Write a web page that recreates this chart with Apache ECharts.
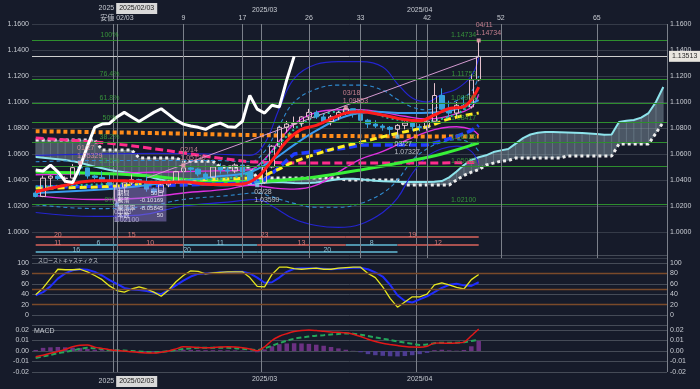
<!DOCTYPE html>
<html><head><meta charset="utf-8">
<script src="https://cdn.jsdelivr.net/npm/echarts@6/dist/echarts.min.js"></script>
<style>html,body{margin:0;padding:0;background:#161b2a;}#c{width:700px;height:389px;}</style>
</head><body><div id="c"></div>
<script>
const categories = [
'2025/01/17','2025/01/20','2025/01/21','2025/01/22','2025/01/23','2025/01/24',
'2025/01/27','2025/01/28','2025/01/29','2025/01/30','2025/01/31',
'2025/02/03','2025/02/04','2025/02/05','2025/02/06','2025/02/07',
'2025/02/10','2025/02/11','2025/02/12','2025/02/13','2025/02/14',
'2025/02/17','2025/02/18','2025/02/19','2025/02/20','2025/02/21',
'2025/02/24','2025/02/25','2025/02/26','2025/02/27','2025/02/28',
'2025/03/03','2025/03/04','2025/03/05','2025/03/06','2025/03/07',
'2025/03/10','2025/03/11','2025/03/12','2025/03/13','2025/03/14',
'2025/03/17','2025/03/18','2025/03/19','2025/03/20','2025/03/21',
'2025/03/24','2025/03/25','2025/03/26','2025/03/27','2025/03/28',
'2025/03/31','2025/04/01','2025/04/02','2025/04/03','2025/04/04',
'2025/04/07','2025/04/08','2025/04/09','2025/04/10','2025/04/11',
'2025/04/14','2025/04/15','2025/04/16','2025/04/17','2025/04/18',
'2025/04/21','2025/04/22','2025/04/23','2025/04/24','2025/04/25',
'2025/04/28','2025/04/29','2025/04/30','2025/05/01','2025/05/02',
'2025/05/05','2025/05/06','2025/05/07','2025/05/08','2025/05/09',
'2025/05/12','2025/05/13','2025/05/14','2025/05/15','2025/05/16'];

const opens = [1.0300,1.0273,1.0414,1.0430,1.0411,1.0415,1.0495,1.0493,1.0431,1.0420,1.0390,
 1.0240,1.0344,1.0378,1.0403,1.0383,1.0330,1.0307,1.0362,1.0385,1.0465,
 1.0493,1.0483,1.0446,1.0421,1.0500,1.0477,1.0469,1.0515,1.0462,1.0390,
 1.0380,1.0500,1.0660,1.0805,1.0830,1.0835,1.0885,1.0920,1.0885,1.0850,
 1.0885,1.0920,1.0948,1.0905,1.0860,1.0830,1.0815,1.0805,1.0790,1.0820,
 1.0838,1.0810,1.0805,1.0852,1.1050,1.0945,1.0915,1.0975,1.0962,1.1170];
const highs = [1.0315,1.0433,1.0436,1.0448,1.0428,1.0522,1.05329,1.0495,1.0440,1.0468,1.0440,
 1.0380,1.0380,1.0442,1.0410,1.0430,1.0340,1.0380,1.0400,1.0470,1.0513,
 1.0505,1.0490,1.0460,1.0505,1.0528,1.0500,1.0528,1.0530,1.0470,1.0415,
 1.0505,1.0668,1.0815,1.0855,1.0888,1.0890,1.0947,1.0935,1.0905,1.0900,
 1.0930,1.09553,1.0950,1.0910,1.0870,1.0860,1.0830,1.0815,1.0830,1.0850,
 1.0850,1.0830,1.0880,1.1145,1.1105,1.1010,1.1000,1.1050,1.1215,1.14734];
const lows = [1.0266,1.0268,1.0340,1.0400,1.0380,1.0410,1.0435,1.0410,1.0380,1.0380,1.0355,
 1.02100,1.0300,1.0360,1.0360,1.0310,1.0285,1.0300,1.0345,1.0370,1.0450,
 1.0460,1.0430,1.0400,1.0415,1.0450,1.0450,1.0455,1.0440,1.0375,1.03599,
 1.0370,1.0490,1.0650,1.0765,1.0800,1.0810,1.0860,1.0870,1.0830,1.0820,
 1.0860,1.0900,1.0880,1.0830,1.0800,1.0800,1.0780,1.0745,1.07327,1.0790,
 1.0780,1.0775,1.0780,1.0850,1.0940,1.0880,1.0890,1.0940,1.0950,1.1160];
const closes = [1.0273,1.0414,1.0430,1.0411,1.0415,1.0495,1.0493,1.0431,1.0420,1.0390,1.0362,
 1.0344,1.0378,1.0403,1.0383,1.0330,1.0307,1.0362,1.0385,1.0465,1.0493,
 1.0483,1.0446,1.0421,1.0500,1.0477,1.0469,1.0515,1.0462,1.0390,1.0380,
 1.0500,1.0660,1.0805,1.0830,1.0835,1.0885,1.0920,1.0885,1.0850,1.0885,
 1.0920,1.0948,1.0905,1.0860,1.0830,1.0815,1.0805,1.0790,1.0820,1.0838,
 1.0810,1.0805,1.0852,1.1050,1.0945,1.0915,1.0975,1.0962,1.1170,1.13513];
const chikouShift = 25;

const senkouA = [1.0577,1.0572,1.0566,1.0560,1.0553,1.0545,1.0532,1.0518,1.0503,1.0490,
 1.0477,1.0468,1.0460,1.0454,1.0445,1.0432,1.0416,1.0402,1.0391,1.0383,
 1.0377,1.0372,1.0368,1.0365,1.0362,1.0360,1.0360,1.0361,1.0363,1.0367,
 1.0373,1.0378,1.0383,1.0384,1.0380,1.0377,1.0375,1.0376,1.0380,1.0389,
 1.0398,1.0405,1.0409,1.0409,1.0405,1.0400,1.0395,1.0391,1.0388,1.0386,
 1.0385,1.0385,1.0385,1.0385,1.0386,1.0392,1.0420,1.0465,1.0515,1.0555,
 1.0575,1.0590,1.0615,1.0628,1.0638,1.0680,1.0722,1.0750,1.0763,1.0769,
 1.0769,1.0767,1.0765,1.0763,1.0761,1.0757,1.0753,1.0749,1.0750,1.0846,
 1.0855,1.0862,1.0880,1.0915,1.1000,1.1115];
const senkouB = [1.0708,1.0708,1.0708,1.0708,1.0708,1.0708,1.0708,1.0708,1.0708,
 1.0630,1.0630,1.0630,1.0630,1.0630,
 1.0570,1.0570,1.0570,1.0570,1.0570,1.0570,
 1.0545,1.0545,1.0545,1.0545,1.0545,
 1.0500,1.0500,1.0500,1.0500,1.0500,
 1.0415,1.0415,1.0415,1.0415,1.0415,1.0415,1.0415,1.0415,1.0415,1.0415,1.0415,1.0415,
 1.0400,1.0400,1.0400,1.0400,1.0400,1.0400,1.0400,1.0400,
 1.0362,1.0362,1.0362,1.0362,1.0362,1.0362,1.0362,
 1.0400,1.0435,1.0460,1.0480,1.0515,1.0530,1.0545,1.0550,
 1.0569,1.0569,1.0569,1.0569,1.0569,1.0569,1.0569,
 1.0585,1.0585,1.0585,1.0585,1.0585,1.0585,1.0585,
 1.0677,1.0677,1.0677,1.0677,1.0677,
 1.0760,1.0846];

const ma200Pts = [[0,1.0775],[15,1.0762],[30,1.0745],[45,1.0737],[60,1.0735]];
const ma100Pts = [[0,1.0723],[5,1.0705],[10,1.0682],[15,1.0648],[20,1.0608],[25,1.0568],[30,1.0538],[40,1.0530],[50,1.0530],[60,1.0535]];
const ma75Pts = [[0,1.0462],[10,1.0448],[15,1.0432],[22,1.0398],[29,1.0388],[35,1.0405],[40,1.0440],[44,1.0477],[50,1.0540],[55,1.0600],[60,1.0685]];
const kijunPts = [[0,1.0346],[10,1.0352],[20,1.0362],[29,1.0377],[31,1.0400],[33,1.0500],[35,1.0600],[42,1.0646],[44,1.0670],[53,1.0670],[55,1.0700],[57,1.0735],[59,1.0780],[60,1.0820]];
const yellowPts = [[0,1.0338],[10,1.0350],[20,1.0395],[28,1.0412],[30,1.0420],[32,1.0460],[35,1.0540],[38,1.0600],[41,1.0650],[44,1.0690],[48,1.0746],[53,1.0810],[56,1.0870],[60,1.0915]];
const redPts = [[0,1.0310],[4,1.0360],[8,1.0395],[12,1.0395],[16,1.0380],[20,1.0385],[24,1.0365],[28,1.0370],[30,1.0420],[32,1.0550],[34,1.0700],[36,1.0790],[38,1.0820],[40,1.0870],[42,1.0915],[44,1.0925],[47,1.0900],[50,1.0865],[52,1.0855],[54,1.0900],[56,1.0950],[58,1.0965],[60,1.1115]];
const lightBluePts = [[0,1.0300],[10,1.0330],[15,1.0360],[20,1.0395],[25,1.0430],[29,1.0460],[32,1.0550],[35,1.0670],[38,1.0780],[42,1.0890],[46,1.0925],[50,1.0915],[54,1.0920],[57,1.0945],[60,1.1015]];
const greenDotPts = [[0,1.0350],[10,1.0370],[20,1.0400],[27,1.0420],[30,1.0500],[33,1.0680],[36,1.0830],[40,1.0920],[44,1.0935],[48,1.0875],[52,1.0850],[55,1.0870],[58,1.0940],[60,1.1050]];
const bbUp3 = [[0,1.059],[8,1.060],[16,1.0605],[24,1.060],[29,1.059],[31,1.068],[33,1.095],[35,1.118],[38,1.129],[41,1.131],[44,1.131],[47,1.127],[49,1.114],[51,1.103],[53,1.100],[55,1.106],[57,1.110],[59,1.120],[60,1.134]];
const bbLo3 = [[0,1.015],[8,1.012],[14,1.013],[20,1.020],[26,1.023],[30,1.025],[32,1.020],[35,1.010],[38,1.005],[41,1.0035],[44,1.006],[47,1.015],[49,1.026],[51,1.045],[53,1.058],[55,1.064],[57,1.066],[59,1.062],[60,1.052]];
const bbUp2 = [[0,1.054],[8,1.055],[16,1.055],[24,1.055],[29,1.054],[31,1.062],[33,1.082],[35,1.100],[38,1.110],[41,1.113],[44,1.113],[47,1.109],[49,1.102],[51,1.096],[53,1.094],[55,1.097],[57,1.101],[59,1.108],[60,1.120]];
const bbLo2 = [[0,1.021],[8,1.018],[14,1.019],[20,1.025],[26,1.028],[30,1.030],[32,1.027],[35,1.022],[38,1.019],[41,1.019],[44,1.022],[47,1.030],[49,1.040],[51,1.055],[53,1.064],[55,1.069],[57,1.071],[59,1.068],[60,1.062]];
const bbUp1 = [[0,1.044],[8,1.045],[16,1.046],[24,1.047],[29,1.048],[31,1.056],[33,1.070],[35,1.083],[38,1.092],[41,1.094],[44,1.094],[47,1.092],[50,1.089],[53,1.087],[55,1.088],[57,1.091],[59,1.096],[60,1.106]];
const bbLo1 = [[0,1.028],[8,1.025],[14,1.026],[20,1.030],[26,1.033],[29,1.036],[32,1.034],[35,1.033],[38,1.036],[41,1.046],[44,1.056],[47,1.062],[50,1.070],[53,1.077],[55,1.080],[57,1.081],[59,1.079],[60,1.0746]];
const trendPts = [[15,1.0415],[60,1.1346]];

const fibRatios = ['100%','76.4%','61.8%','50%','38.2%','23.6%','0%'];
const fibLevels = [1.14734,1.11753,1.09908,1.08417,1.06926,1.05082,1.02100];
const lastPrice = 1.13513;

const pivotHighs = [[6,1.05329,'01/27'],[20,1.0513,'02/14'],[42,1.09553,'03/18'],[60,1.14734,'04/11']];
const pivotLows = [[11,1.02100,'02/03'],[30,1.03599,'02/28'],[49,1.07327,'03/27']];

// [startIdx, endIdx, row, count, colour(0=red,1=teal)]
const waveSegments = [
 [0,6,0,20,0],[6,20,0,15,0],[20,42,0,23,0],[42,60,0,19,0],
 [0,6,1,11,0],[6,11,1,6,1],[11,20,1,10,0],[20,30,1,11,1],[30,42,1,13,0],[42,49,1,8,1],[49,60,1,12,0],
 [0,11,2,16,1],[11,30,2,20,1],[30,49,2,20,1]];

const statRows = [['期間','50日'],['騰落','-0.10169'],['騰落率','-8.05845'],['本数','50']];
const statAnchor = [11, 1.0338];

const monthIdx = [11,31,52];
const monthLabels = ['2025','2025/03','2025/04'];
const pointerIdx = 11;
const pointerLabel = '2025/02/03';
const countDays = [9,17,26,33,42,52,65];
const baseLabel = '安値 02/03';

const stochK = [39,52,70,88,87,87,88,83,76,68,56,
 47,44,50,54,50,44,36,48,64,76,
 85,84,79,81,82,83,83,83,72,55,
 54,78,92,92,89,88,89,90,88,88,
 90,91,92,92,80,72,54,32,15,25,
 35,35,40,58,62,58,53,50,68,78];
const stochD = [38,44,55,70,80,86,88,87,83,76,67,
 60,52,49,48,46,43,40,48,57,66,
 74,79,80,81,82,82,83,83,80,72,
 62,63,72,83,89,90,90,90,89,88,
 89,90,91,91,88,82,74,58,38,27,
 24,30,36,44,52,58,60,57,56,63];
const stochLevels = [20,50,80];

const macdLine = [-0.0054,-0.0040,-0.0022,-0.0005,0.0015,0.0040,0.0055,0.0057,0.0037,0.0025,0.0013,
 0.0005,0.0000,-0.0008,-0.0014,-0.0018,-0.0020,-0.0012,0.0000,0.0020,0.0040,
 0.0038,0.0033,0.0030,0.0033,0.0037,0.0040,0.0038,0.0030,0.0018,0.0002,
 0.0040,0.0100,0.0140,0.0165,0.0185,0.0195,0.0200,0.0195,0.0188,0.0182,
 0.0178,0.0174,0.0160,0.0138,0.0112,0.0090,0.0073,0.0062,0.0052,0.0043,
 0.0037,0.0036,0.0045,0.0075,0.0076,0.0073,0.0077,0.0085,0.0145,0.0210];
const macdSignal = [-0.0067,-0.0052,-0.0037,-0.0022,-0.0009,0.0005,0.0020,0.0030,0.0026,0.0018,0.0010,
 0.0007,0.0004,0.0000,-0.0005,-0.0010,-0.0013,-0.0008,-0.0001,0.0010,0.0018,
 0.0025,0.0030,0.0031,0.0031,0.0031,0.0030,0.0027,0.0021,0.0014,0.0010,
 0.0025,0.0050,0.0075,0.0098,0.0117,0.0128,0.0138,0.0146,0.0151,0.0157,
 0.0162,0.0167,0.0165,0.0155,0.0143,0.0130,0.0117,0.0105,0.0092,0.0080,
 0.0069,0.0058,0.0062,0.0074,0.0079,0.0079,0.0079,0.0083,0.0095,0.0108];
const macdHist = [0.0010,0.0030,0.0035,0.0038,0.0035,0.0032,0.0028,0.0020,0.0012,0.0008,0.0004,
 0.0002,0.0000,-0.0004,-0.0006,-0.0008,-0.0007,-0.0004,0.0002,0.0008,0.0012,
 0.0011,0.0009,0.0008,0.0008,0.0008,0.0007,0.0006,0.0004,-0.0006,-0.0012,
 0.0015,0.0045,0.0065,0.0072,0.0074,0.0072,0.0068,0.0060,0.0050,0.0038,
 0.0025,0.0012,0.0002,-0.0012,-0.0030,-0.0040,-0.0046,-0.0050,-0.0052,-0.0048,
 -0.0040,-0.0030,-0.0018,0.0008,0.0012,0.0006,0.0003,0.0010,0.0045,0.0095];

// ---------- layout / style ----------
const FF = "'Liberation Sans','Noto Sans CJK JP',sans-serif";
const TXT = '#c8ccd3';
const GRIDLINE = '#353b48';
const VLINE = '#7b808a';
const rowLevels = [0.9962, 0.9900, 0.9846];

const chart = echarts.init(document.getElementById('c'));

function sline(name, pts, color, width, type, z, smooth) {
  return {type:'line', name, data: pts, xAxisIndex:0, yAxisIndex:0, symbol:'none',
    smooth: smooth === undefined ? 0.4 : smooth, silent:true, z,
    lineStyle:{color, width, type, cap:'butt'}};
}
function monthFmt(v, idx) {
  const k = monthIdx.indexOf(idx);
  if (idx === pointerIdx) return '{y|' + monthLabels[k] + '}{b|' + pointerLabel + '}';
  return monthLabels[k];
}
const monthRich = {
  y:{padding:[0,2,0,22], color:TXT, fontSize:7, fontFamily:FF},
  b:{backgroundColor:'#d9d9d9', color:'#1a1a1a', padding:[2,3,2,3], fontSize:7, fontFamily:FF}
};
const countMap = {};
countMap[pointerIdx] = baseLabel;
countDays.forEach(d => { countMap[pointerIdx + d] = String(d); });

const baseX = {type:'category', data:categories, boundaryGap:true,
  axisLine:{show:false}, axisTick:{show:false}, axisLabel:{show:false},
  splitLine:{show:true, interval:(i)=>monthIdx.includes(i), lineStyle:{color:VLINE, width:1}}};

const option = {
  backgroundColor:'#161b2a',
  animation:false,
  textStyle:{fontFamily:FF},
  grid:[
    {left:32, right:33, top:24, height:234},
    {left:32, right:33, top:255.2, height:70.2},
    {left:32, right:33, top:324.75, height:47.25}
  ],
  xAxis:[
    Object.assign({}, baseX, {gridIndex:0}),
    {type:'category', data:categories, gridIndex:0, position:'top', offset:8,
      axisLine:{show:false}, axisTick:{show:false}, splitLine:{show:false},
      axisLabel:{show:true, interval:(i)=>monthIdx.includes(i), formatter:monthFmt, rich:monthRich,
        color:TXT, fontSize:7, margin:2}},
    {type:'category', data:categories, gridIndex:0, position:'top', offset:0,
      axisLine:{show:false}, axisTick:{show:false}, splitLine:{show:false},
      axisLabel:{show:true, interval:(i)=>countMap[i]!==undefined, formatter:(v,i)=>countMap[i],
        color:TXT, fontSize:7, margin:2}},
    Object.assign({}, baseX, {gridIndex:1}),
    Object.assign({}, baseX, {gridIndex:2, position:'bottom',
      axisLabel:{show:true, interval:(i)=>monthIdx.includes(i), formatter:monthFmt, rich:monthRich,
        color:TXT, fontSize:7, margin:4}})
  ],
  yAxis:[
    {type:'value', gridIndex:0, min:0.98, max:1.16, interval:0.02, position:'left',
      axisLine:{show:false}, axisTick:{show:false},
      axisLabel:{color:TXT, fontSize:7, margin:3, showMinLabel:false, formatter:v=>v.toFixed(4)},
      splitLine:{show:true, lineStyle:{color:GRIDLINE}}},
    {type:'value', gridIndex:0, min:0.98, max:1.16, interval:0.02, position:'right',
      axisLine:{show:false}, axisTick:{show:false},
      axisLabel:{color:TXT, fontSize:7, margin:3, showMinLabel:false, formatter:v=>v.toFixed(4)},
      splitLine:{show:false}},
    {type:'value', gridIndex:1, min:-20, max:115, interval:20, position:'left',
      axisLine:{show:false}, axisTick:{show:false},
      axisLabel:{color:TXT, fontSize:7, margin:3, showMinLabel:false, showMaxLabel:false},
      splitLine:{show:true, lineStyle:{color:'#454b57'}},
      name:'スローストキャスティクス', nameLocation:'end', nameGap:-3, nameMoveOverlap:false,
      nameTextStyle:{color:TXT, fontSize:5, align:'left', verticalAlign:'top', padding:[0,0,0,6], fontFamily:FF}},
    {type:'value', gridIndex:1, min:-20, max:115, interval:20, position:'right',
      axisLine:{show:false}, axisTick:{show:false},
      axisLabel:{color:TXT, fontSize:7, margin:3, showMinLabel:false, showMaxLabel:false},
      splitLine:{show:false}},
    {type:'value', gridIndex:2, min:-0.02, max:0.025, interval:0.01, position:'left',
      axisLine:{show:false}, axisTick:{show:false},
      axisLabel:{color:TXT, fontSize:7, margin:3, showMaxLabel:false, formatter:v=>v.toFixed(2)},
      splitLine:{show:true, lineStyle:{color:'#454b57'}},
      name:'MACD', nameLocation:'end', nameGap:-3, nameMoveOverlap:false,
      nameTextStyle:{color:TXT, fontSize:7, align:'left', verticalAlign:'top', padding:[0,0,0,2], fontFamily:FF}},
    {type:'value', gridIndex:2, min:-0.02, max:0.025, interval:0.01, position:'right',
      axisLine:{show:false}, axisTick:{show:false},
      axisLabel:{color:TXT, fontSize:7, margin:3, showMaxLabel:false, formatter:v=>v.toFixed(2)},
      splitLine:{show:false}}
  ],
  series:[
    {type:'custom', xAxisIndex:0, yAxisIndex:0, silent:true, z:1,
      data: senkouA.map((a,i)=>[i, a, senkouB[i]]),
      encode:{x:0, y:[1,2]},
      renderItem:(params, api)=>{
        const i = api.value(0);
        if (i >= senkouA.length - 1) return null;
        const a0 = api.coord([i, senkouA[i]]), b0 = api.coord([i, senkouB[i]]);
        const a1 = api.coord([i+1, senkouA[i+1]]), b1 = api.coord([i+1, senkouB[i+1]]);
        return {type:'polygon', shape:{points:[a0,a1,b1,b0]},
          style:{fill:'rgba(150,172,184,0.42)', stroke:'rgba(150,172,184,0.42)', lineWidth:0.5}};
      }},
    sline('senkouB', senkouB.map((v,i)=>[i,v]), '#ececec', 3, [3,3], 2, false),
    sline('senkouA', senkouA.map((v,i)=>[i,v]), '#8ee4ec', 2, 'solid', 2, false),
    sline('bbUp3', bbUp3, '#2424cf', 1.2, 'solid', 2),
    sline('bbLo3', bbLo3, '#2424cf', 1.2, 'solid', 2),
    sline('bbUp2', bbUp2, '#2f8bd0', 1.1, [4,3], 2),
    sline('bbLo2', bbLo2, '#2f8bd0', 1.1, [4,3], 2),
    sline('bbUp1', bbUp1, '#e030e0', 1.4, 'solid', 2),
    sline('bbLo1', bbLo1, '#e030e0', 1.4, 'solid', 2),
    sline('ma200', ma200Pts, '#ff8c1a', 4, [4,3], 3),
    sline('ma100', ma100Pts, '#ff2d8c', 3, [8,4], 3),
    sline('ma75', ma75Pts, '#38f038', 3, 'solid', 3),
    sline('kijun', kijunPts, '#1f3cff', 3.5, [8,4], 3, false),
    sline('yellow', yellowPts, '#ffee22', 3, [7,4], 3),
    sline('lightBlue', lightBluePts, '#3a9cf0', 2, 'solid', 3),
    sline('greenDot', greenDotPts, '#22c9a0', 2, [2,3], 3),
    {type:'candlestick', xAxisIndex:0, yAxisIndex:0, z:4, silent:true, barWidth:5,
      data: opens.map((o,i)=>[o, closes[i], lows[i], highs[i]]),
      itemStyle:{color:'rgba(0,0,0,0)', color0:'#36a2dc', borderColor:'#e4c0cc', borderColor0:'#36a2dc', borderWidth:1},
      markLine:{silent:true, precision:6, symbol:['none','none'], label:{show:false}, animation:false,
        data:[].concat(
          fibLevels.map(v=>({yAxis:v, lineStyle:{color:'#2e8e2e', width:1, type:'solid'}})),
          [{yAxis:lastPrice, lineStyle:{color:'#cfcfcf', width:1, type:'solid'},
            label:{show:true, position:'end', align:'left', verticalAlign:'middle',
              formatter:lastPrice.toFixed(5), backgroundColor:'#e9e6df',
              color:'#2a2a2a', padding:[2,3,2,3], fontSize:7, distance:2}}],
          [{xAxis:categories[pointerIdx], lineStyle:{color:VLINE, width:1, type:'solid'}}],
          countDays.map(d=>({xAxis:categories[pointerIdx+d], lineStyle:{color:VLINE, width:1, type:'solid'}}))
        )}},
    sline('trend', trendPts, '#d39ad0', 1, 'solid', 4, false),
    sline('red', redPts, '#ff1c1c', 3, 'solid', 5),
    {type:'line', name:'chikou', xAxisIndex:0, yAxisIndex:0, data: closes.slice(chikouShift),
      symbol:'none', silent:true, z:6, lineStyle:{color:'#ffffff', width:3}},
    {type:'custom', xAxisIndex:0, yAxisIndex:0, silent:true, z:4,
      data: waveSegments, encode:{x:[0,1]},
      renderItem:(params, api)=>{
        const s = api.value(0), e = api.value(1), row = api.value(2);
        const p0 = api.coord([s, rowLevels[row]]), p1 = api.coord([e, rowLevels[row]]);
        const teal = api.value(4) === 1;
        return {type:'group', children:[
          {type:'line', shape:{x1:p0[0], y1:p0[1], x2:p1[0], y2:p1[1]},
            style:{stroke: teal ? '#4f93ab' : '#a9514f', lineWidth:2}},
          {type:'text', x:(p0[0]+p1[0])/2, y:p0[1]-2,
            style:{text:String(api.value(3)), fill: teal ? '#8cc3d6' : '#d97b78',
              font:'7px ' + FF, align:'center', verticalAlign:'middle'}}
        ]};
      }},
    {type:'scatter', xAxisIndex:0, yAxisIndex:0, z:7, silent:true, symbol:'rect', symbolSize:4,
      data: pivotHighs.map(p=>[p[0], p[1], p[2]]),
      itemStyle:{color:'#f2a0b2'},
      label:{show:true, position:[-1,-17], color:'#ee97a6', fontSize:7, lineHeight:8,
        formatter:(p)=>p.value[2] + '\n' + p.value[1].toFixed(5)}},
    {type:'scatter', xAxisIndex:0, yAxisIndex:0, z:7, silent:true, symbol:'rect', symbolSize:4,
      data: pivotLows.map(p=>[p[0], p[1], p[2]]),
      itemStyle:{color:'#7fd0ea'},
      label:{show:true, position:[-1,5], color:'#dfe3ea', fontSize:7, lineHeight:8,
        formatter:(p)=>p.value[2] + '\n' + p.value[1].toFixed(5)}},
    {type:'scatter', xAxisIndex:0, yAxisIndex:0, z:7, silent:true, symbolSize:1,
      itemStyle:{color:'rgba(0,0,0,0)'},
      data: fibLevels.map(v=>[10, v]),
      label:{show:true, position:'top', distance:1, color:'#3fae3f', fontSize:7,
        formatter:(p)=>fibRatios[p.dataIndex]}},
    {type:'scatter', xAxisIndex:0, yAxisIndex:0, z:7, silent:true, symbolSize:1,
      itemStyle:{color:'rgba(0,0,0,0)'},
      data: fibLevels.map(v=>[60, v]),
      label:{show:true, position:'left', distance:2, offset:[0,-5], color:'#3fae3f', fontSize:7,
        formatter:(p)=>p.value[1].toFixed(5)}},
    {type:'scatter', xAxisIndex:0, yAxisIndex:0, z:8, silent:true, symbolSize:1,
      itemStyle:{color:'rgba(0,0,0,0)'},
      data:[statAnchor],
      label:{show:true, position:[-2,0], backgroundColor:'rgba(150,130,220,0.6)', padding:[2,3,2,3],
        color:'#ffffff', fontSize:6, lineHeight:7.5, width:46,
        formatter:()=>statRows.map(r=>'{k|'+r[0]+'}{v|'+r[1]+'}').join('\n'),
        rich:{k:{align:'left', fontSize:6, lineHeight:7.5, color:'#fff'},
              v:{align:'right', fontSize:6, lineHeight:7.5, color:'#fff'}}}},
    {type:'line', name:'stochD', xAxisIndex:3, yAxisIndex:2, data:stochD, symbol:'none', silent:true, z:3,
      lineStyle:{color:'#1f2cff', width:2},
      markLine:{silent:true, symbol:['none','none'], label:{show:false}, animation:false,
        data:[].concat(stochLevels.map(v=>({yAxis:v, lineStyle:{color:'#7a4a2a', width:1.3, type:'solid'}})),
          [{xAxis:categories[pointerIdx], lineStyle:{color:VLINE, width:1, type:'solid'}}])}},
    {type:'line', name:'stochK', xAxisIndex:3, yAxisIndex:2, data:stochK, symbol:'none', silent:true, z:4,
      lineStyle:{color:'#e8e81e', width:1.3}},
    {type:'bar', name:'hist', xAxisIndex:4, yAxisIndex:4, data:macdHist, barWidth:4.5, silent:true, z:2,
      itemStyle:{color:(p)=> p.value >= 0 ? '#6b3182' : '#4d3c92'}},
    {type:'line', name:'signal', xAxisIndex:4, yAxisIndex:4, data:macdSignal, symbol:'none', silent:true, z:3,
      smooth:0.3, lineStyle:{color:'#25a55a', width:2, type:[5,3]},
      markLine:{silent:true, symbol:['none','none'], label:{show:false}, animation:false,
        data:[{xAxis:categories[pointerIdx], lineStyle:{color:VLINE, width:1, type:'solid'}}]}},
    {type:'line', name:'macd', xAxisIndex:4, yAxisIndex:4, data:macdLine, symbol:'none', silent:true, z:4,
      smooth:0.3, lineStyle:{color:'#e21818', width:1.5}}
  ]
};
chart.setOption(option);
</script>
</body></html>
